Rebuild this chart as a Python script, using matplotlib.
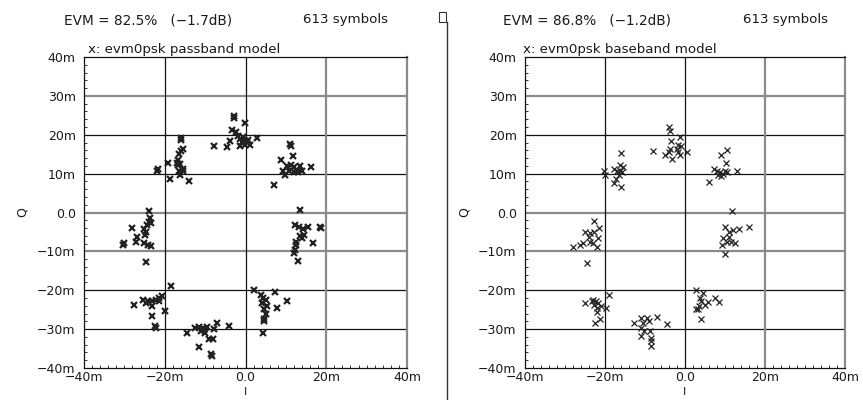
import numpy as np
import matplotlib
matplotlib.use("Agg")
import matplotlib.pyplot as plt
from matplotlib.patches import Rectangle

# constellation points (I, Q) in mV
pass_i = [-21.7, -21.8, -19.3, -18.8, -15.9, -16.0, -16.0, -15.5, -16.4, -16.8, -16.6, -16.2, -15.6, -16.4, -15.4, -16.2, -13.9, -17.0,
          -2.9, -2.8, -0.1, -3.3, -2.3, -1.9, -3.8, -1.3, -0.7, -0.2, 0.3, -1.3, -0.1, 1.2, 2.8, -7.7, -4.5, -0.9, 0.7,
          11.1, 11.3, 11.7, 8.8, 9.4, 9.8, 10.4, 11.2, 12.1, 12.7, 13.6, 14.0, 10.7, 16.3, 7.1, 11.9, 13.1,
          -24.0, -23.7, -23.9, -24.3, -28.2, -25.1, -24.6, -26.8, -27.2, -30.1, -30.4, -25.1, -24.1, -23.5, -24.7, -23.5, -24.8,
          -18.5, -27.6, -25.3, -24.7, -23.1, -22.2, -21.4, -20.7, -21.5, -23.1, -19.9, -23.2, -22.4, -22.2, -24.1,
          -14.4, -12.4, -11.6, -10.6, -10.2, -9.6, -11.0, -9.1, -8.1, -7.1, -7.7, -4.0, -11.5, -8.5, -8.3, -10.0,
          2.2, 7.2, 4.3, 5.0, 4.1, 5.3, 4.7, 7.8, 10.3, 5.0, 4.5, 4.7, 4.3, 3.9,
          13.6, 12.2, 13.3, 14.3, 15.5, 18.4, 18.6, 13.4, 14.6, 12.6, 12.4, 16.6, 12.2, 11.9, 12.9, 13.9]
pass_q = [11.3, 10.8, 12.7, 8.7, 19.2, 18.7, 15.9, 16.4, 15.1, 13.4, 12.1, 12.5, 11.3, 10.8, 10.8, 9.7, 8.1, 12.8,
          24.8, 24.2, 22.9, 21.3, 20.8, 19.7, 18.5, 18.9, 19.3, 18.5, 18.1, 17.2, 17.4, 17.4, 19.2, 17.2, 16.8, 18.1, 18.7,
          17.6, 17.2, 14.5, 13.6, 10.6, 9.7, 11.9, 12.1, 11.7, 10.8, 11.9, 10.6, 10.8, 11.7, 7.0, 10.5, 10.3,
          0.3, -1.4, -2.4, -3.2, -3.9, -4.3, -4.9, -6.2, -7.7, -7.9, -8.3, -7.9, -8.3, -8.6, -12.8, -2.8, -5.8,
          -19.0, -23.7, -22.4, -23.2, -22.8, -22.4, -22.1, -21.5, -22.8, -24.1, -25.4, -26.6, -29.2, -29.6, -22.8,
          -30.9, -29.6, -29.4, -29.6, -30.3, -29.4, -30.5, -32.6, -32.6, -28.3, -30.0, -29.2, -34.7, -36.4, -36.9, -30.9,
          -20.0, -20.5, -22.0, -22.6, -23.2, -24.1, -24.9, -24.5, -22.8, -26.2, -27.5, -27.9, -30.9, -21.1,
          0.6, -3.2, -3.7, -4.3, -3.7, -3.7, -4.1, -6.0, -5.8, -7.5, -8.3, -7.9, -9.6, -10.5, -12.4, -6.6]

base_i = [-20.3, -20.1, -15.9, -16.2, -17.7, -17.0, -16.2, -16.6, -15.8, -17.8, -16.0, -17.2, -15.4,
          -4.1, -3.7, -1.2, -3.6, -1.7, -1.1, -3.7, -3.9, -1.7, -1.2, 0.4, -5.0, -3.2, -7.9, -2.1,
          10.4, 8.9, 10.2, 7.2, 7.9, 8.7, 9.4, 9.9, 10.5, 9.1, 13.0, 6.1, 8.3,
          -22.7, -21.4, -25.0, -23.7, -22.7, -21.7, -25.4, -26.2, -23.7, -23.1, -22.1, -28.0, -24.6, -24.1,
          -18.9, -25.0, -22.9, -22.2, -21.7, -22.7, -22.1, -21.1, -19.8, -22.1, -21.3, -22.5, -23.3,
          -12.8, -10.9, -10.6, -9.6, -9.0, -7.1, -4.5, -10.9, -10.9, -8.8, -8.6, -8.6, -8.4, -10.3,
          2.7, 4.5, 3.7, 4.1, 3.5, 2.8, 4.9, 5.7, 7.6, 8.6, 4.1, 3.2,
          11.8, 9.9, 11.0, 12.0, 13.6, 15.9, 9.5, 10.5, 11.5, 12.4, 9.3, 9.9, 11.1]
base_q = [10.6, 9.6, 15.3, 12.3, 11.3, 10.6, 10.8, 9.7, 10.3, 7.7, 6.6, 8.7, 11.7,
          21.9, 21.0, 19.3, 18.5, 17.4, 17.2, 16.4, 15.5, 15.5, 14.7, 15.5, 14.7, 13.8, 15.9, 16.4,
          16.2, 14.7, 12.8, 11.3, 10.6, 10.3, 10.0, 10.6, 10.3, 9.4, 10.8, 7.9, 9.7,
          -2.2, -3.9, -4.9, -5.4, -4.9, -6.6, -7.9, -8.3, -7.7, -7.9, -9.0, -8.8, -13.0, -6.2,
          -21.3, -23.2, -22.4, -22.8, -23.2, -23.7, -24.5, -24.1, -24.5, -25.5, -27.5, -28.3, -22.8,
          -28.3, -27.1, -28.3, -27.1, -27.9, -26.9, -28.8, -29.6, -31.7, -30.5, -32.2, -33.0, -34.3, -30.5,
          -20.0, -20.7, -22.0, -22.8, -24.1, -24.9, -23.7, -23.0, -22.0, -23.0, -27.5, -24.7,
          0.3, -3.7, -4.9, -4.5, -4.3, -3.7, -6.5, -7.5, -7.7, -7.9, -8.3, -10.7, -6.2]

titles = ["EVM = 82.5%   (\u22121.7dB)", "EVM = 86.8%   (\u22121.2dB)"]
symbols = "613 symbols"
models = ["x: evm0psk passband model", "x: evm0psk baseband model"]

yticks = [40, 30, 20, 10, 0, -10, -20, -30, -40]
ylabels = ["40m", "30m", "20m", "10m", "0.0", "\u221210m", "\u221220m", "\u221230m", "\u221240m"]
xticks = [-40, -20, 0, 20, 40]
xlabels = ["\u221240m", "\u221220m", "0.0", "20m", "40m"]

W, H = 863, 400
fig = plt.figure(figsize=(W / 100, H / 100), dpi=100)
plt.rcParams['font.family'] = ['DejaVu Sans']
tc = '#1a1a1a'

def px(x0, y0, x1, y1):
    return [x0 / W, 1 - y1 / H, (x1 - x0) / W, (y1 - y0) / H]

def panel(rect, xs, ys, ms, mlw):
    ax = fig.add_axes(px(*rect))
    ax.set_xlim(-40, 40)
    ax.set_ylim(-40, 40)
    for v in [30, 20, 10, 0, -10, -20, -30]:
        if v in (30, 0, -10):
            ax.axhline(v, color='#8a8a8a', lw=1.6, zorder=1)
        else:
            ax.axhline(v, color='#111111', lw=0.9, zorder=1)
    for v in [-20, 0, 20]:
        if v == 20:
            ax.axvline(v, color='#8a8a8a', lw=1.6, zorder=1)
        else:
            ax.axvline(v, color='#111111', lw=0.9, zorder=1)
    for s in ['left', 'top', 'bottom']:
        ax.spines[s].set_color('#111111')
        ax.spines[s].set_linewidth(0.9)
    ax.spines['right'].set_color('#8a8a8a')
    ax.spines['right'].set_linewidth(1.6)
    ax.plot(xs, ys, linestyle='none', marker='x', ms=ms, mew=mlw, color='#222222', zorder=3)
    ax.set_xticks(xticks)
    ax.set_xticklabels(xlabels)
    ax.set_yticks(yticks)
    ax.set_yticklabels(ylabels)
    ax.set_xticks(np.arange(-38, 40, 2), minor=True)
    ax.set_yticks(np.arange(-38, 40, 2), minor=True)
    ax.tick_params(which='major', length=0, labelsize=9, colors=tc, pad=6)
    ax.tick_params(axis='x', which='major', pad=2.5)
    ax.tick_params(which='minor', direction='in', length=2.5, width=0.7, color='#333333')
    ax.tick_params(axis='x', which='minor', top=False)
    ax.tick_params(axis='y', which='minor', right=False)
    ax.set_xlabel("I", fontsize=8, color=tc, va='top')
    ax.xaxis.set_label_coords(0.5, -0.062)
    ax.set_ylabel("Q", fontsize=9, color=tc)
    ax.yaxis.set_label_coords(-0.17, 0.5)
    return ax

ax1 = panel((84, 57, 407, 368), pass_i, pass_q, 5, 1.6)
ax2 = panel((525, 57, 845, 368), base_i, base_q, 4.5, 0.9)

fig.text(64 / W, 1 - 20 / H, titles[0], fontsize=9.8, color=tc, va='center', ha='left')
fig.text(303 / W, 1 - 20 / H, symbols, fontsize=9.6, color=tc, va='center', ha='left')
fig.text(88 / W, 1 - 50 / H, models[0], fontsize=9.6, color=tc, va='center', ha='left')
fig.text(503 / W, 1 - 20 / H, titles[1], fontsize=9.8, color=tc, va='center', ha='left')
fig.text(743 / W, 1 - 20 / H, symbols, fontsize=9.6, color=tc, va='center', ha='left')
fig.text(523 / W, 1 - 50 / H, models[1], fontsize=9.6, color=tc, va='center', ha='left')

# separator between the two windows
fig.add_artist(plt.Line2D([447 / W, 447 / W], [0, 1 - 22 / H], color='#333333', lw=1.0))
fig.add_artist(Rectangle((439 / W, 1 - 22 / H), 7 / W, 10 / H, fill=False, ec='#333333', lw=0.8))

fig.savefig("out.png", dpi=100)
